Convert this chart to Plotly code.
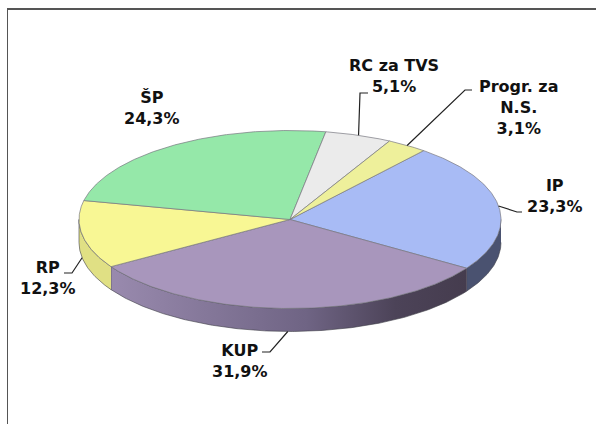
import numpy as np
import plotly.graph_objects as go

categories = ["IP", "KUP", "RP", "ŠP", "RC za TVS", "Progr. za<br>N.S."]
shares = [23.3, 31.9, 12.3, 24.3, 5.1, 3.1]
value_labels = ["23,3%", "31,9%", "12,3%", "24,3%", "5,1%", "3,1%"]
top_colors = ["#A8BBF5", "#A896BC", "#F8F794", "#95E8A9", "#EBEBEB", "#EEF09B"]
side_colors = ["#4A5270", "#6F6484", "#E0E084", "#5F9A6E", "#999999", "#A0A068"]
label_pos = [(555, 196), (240, 361), (48, 278), (152, 108), (394, 76), (518, 107)]
leader_elbow = [[(517, 212), (522, 212)], [(270, 352), (262, 352)], [(72, 273), (64, 273)],
                None, [(360, 93), (368, 93)], [(465, 90), (472, 90)]]

CX, CY, RX, RY, DEPTH, START = 290, 219.5, 211, 89, 23, 39.3
FONT = "DejaVu Sans"


def pt(deg, dy=0):
    r = np.radians(deg)
    return CX + RX * np.sin(r), CY - RY * np.cos(r) + dy


def arc(a0, a1, dy=0):
    t = np.linspace(a0, a1, max(int(abs(a1 - a0)) * 2, 2))
    return pt(t, dy)


fractions = np.array(shares) / sum(shares) * 360
edges = START + np.concatenate([[0], np.cumsum(fractions)])

fig = go.Figure()

# rim of the cake: only the part of each slice that faces the viewer
for i, c in enumerate(side_colors):
    a0, a1 = max(edges[i], 90), min(edges[i + 1], 270)
    if a1 <= a0:
        continue
    x0, y0 = arc(a0, a1)
    x1, y1 = arc(a1, a0, DEPTH)
    kw = dict(fillcolor=c)
    if i == 1:
        kw = dict(fillgradient=dict(type="horizontal",
                  colorscale=[[0, "#998AAE"], [0.55, "#6F6484"], [0.8, "#4C4358"], [1, "#453C4E"]]))
    fig.add_trace(go.Scatter(x=np.r_[x0, x1], y=np.r_[y0, y1], mode="lines", fill="toself",
                             line=dict(color="#3E3E46", width=0.6), hoverinfo="skip", **kw))

# top face
for i, c in enumerate(top_colors):
    x, y = arc(edges[i], edges[i + 1])
    fig.add_trace(go.Scatter(x=np.r_[CX, x, CX], y=np.r_[CY, y, CY], mode="lines", fill="toself",
                             fillcolor=c, line=dict(color="#77777F", width=0.7),
                             name=categories[i], hoverinfo="skip"))

# leader lines and labels
annotations = []
for i, cat in enumerate(categories):
    if leader_elbow[i]:
        mid = (edges[i] + edges[i + 1]) / 2
        sx, sy = pt(mid, DEPTH if 90 < mid < 270 else 0)
        ex, ey = zip(*leader_elbow[i])
        fig.add_trace(go.Scatter(x=[sx, *ex], y=[sy, *ey], mode="lines",
                                 line=dict(color="#222222", width=1.2), hoverinfo="skip"))
    lx, ly = label_pos[i]
    annotations.append(dict(x=lx, y=ly, xref="x", yref="y", text=f"<b>{cat}<br>{value_labels[i]}</b>",
                            showarrow=False, align="center", xanchor="center", yanchor="middle",
                            font=dict(family=FONT, size=16, color="#111111")))

fig.update_layout(
    width=596, height=424, margin=dict(l=0, r=0, t=0, b=0), showlegend=False,
    paper_bgcolor="white", plot_bgcolor="white", annotations=annotations,
    xaxis=dict(range=[0, 596], visible=False, fixedrange=True),
    yaxis=dict(range=[424, 0], visible=False, fixedrange=True),
    shapes=[
        dict(type="line", xref="x", yref="y", x0=7.5, x1=7.5, y0=9, y1=424, line=dict(color="#555555", width=1)),
        dict(type="line", xref="x", yref="y", x0=7, x1=596, y0=9, y1=9, line=dict(color="#555555", width=2)),
    ],
)
fig.write_html("out.html", config={"displayModeBar": False},
               post_script="document.body.style.margin='0';document.documentElement.style.overflow='hidden';")
